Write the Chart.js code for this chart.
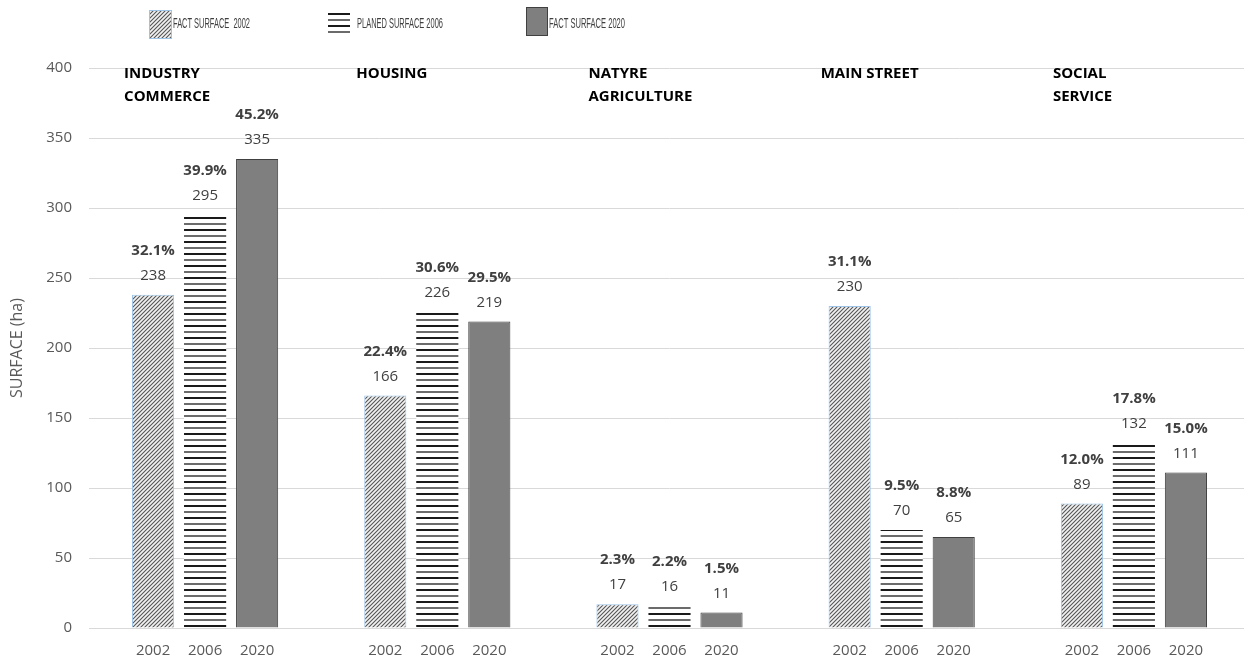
<!DOCTYPE html>
<html>
<head>
<meta charset="utf-8">
<script src="https://cdn.jsdelivr.net/npm/chart.js@4.4.0/dist/chart.umd.min.js"></script>
<style>
  html, body { margin: 0; padding: 0; background: #fff; overflow: hidden; }
  #wrap { width: 1252px; height: 661px; }
</style>
</head>
<body>
<div id="wrap"><canvas id="grafica"></canvas></div>
<script>
// datos
var grupos = ["INDUSTRY|COMMERCE", "HOUSING", "NATYRE|AGRICULTURE", "MAIN STREET", "SOCIAL|SERVICE"];
var anios = ["2002", "2006", "2020"];
var leyenda = ["FACT SURFACE  2002", "PLANED SURFACE 2006", "FACT SURFACE 2020"];
var valores2002 = [238, 166, 17, 230, 89];
var valores2006 = [295, 226, 16, 70, 132];
var valores2020 = [335, 219, 11, 65, 111];
var pct2002 = ["32.1%", "22.4%", "2.3%", "31.1%", "12.0%"];
var pct2006 = ["39.9%", "30.6%", "2.2%", "9.5%", "17.8%"];
var pct2020 = ["45.2%", "29.5%", "1.5%", "8.8%", "15.0%"];
var ticksY = [0, 50, 100, 150, 200, 250, 300, 350, 400];

// patrones de relleno
function rayado(){
    var c = document.createElement('canvas');
    c.width = 4; c.height = 4;
    var x = c.getContext('2d');
    x.fillStyle = '#f2f2f2';
    x.fillRect(0, 0, 4, 4);
    x.strokeStyle = '#555555';
    x.lineWidth = 1.1;
    x.beginPath();
    x.moveTo(-1, 5); x.lineTo(5, -1);
    x.moveTo(-3, 3); x.lineTo(3, -3);
    x.moveTo(1, 7); x.lineTo(7, 1);
    x.stroke();
    return x.createPattern(c, 'repeat');
}
function lineas(){
    var c = document.createElement('canvas');
    c.width = 4; c.height = 12;
    var x = c.getContext('2d');
    x.fillStyle = '#ffffff';
    x.fillRect(0, 0, 4, 12);
    x.fillStyle = '#1a1a1a';
    x.fillRect(0, 1, 4, 2);
    x.fillStyle = '#6b6b6b';
    x.fillRect(0, 7, 4, 2);
    return x.createPattern(c, 'repeat');
}
var pat2002 = rayado();
var pat2006 = lineas();

var etiquetas = {
    id: 'etiquetas',
    afterDatasetsDraw: function(chart){
        var ctx = chart.ctx;
        var pcts = [pct2002, pct2006, pct2020];
        ctx.save();
        ctx.textAlign = 'center';
        ctx.textBaseline = 'middle';
        chart.data.datasets.forEach(function(ds, i){
            var meta = chart.getDatasetMeta(i);
            meta.data.forEach(function(bar, j){
                ctx.fillStyle = '#404040';
                ctx.font = '15px "Open Sans"';
                ctx.fillText(String(ds.data[j]), bar.x, bar.y - 19);
                ctx.font = 'bold 15px "Open Sans"';
                ctx.fillText(pcts[i][j], bar.x, bar.y - 44);
                // años debajo de cada barra
                ctx.fillStyle = '#595959';
                ctx.font = '15px "Open Sans"';
                ctx.fillText(anios[i], bar.x, 651);
            });
        });
        // titulos de grupo
        var m0 = chart.getDatasetMeta(1);
        ctx.textAlign = 'left';
        ctx.fillStyle = '#000000';
        ctx.font = 'bold 15px "Open Sans"';
        grupos.forEach(function(g, j){
            var partes = g.split('|');
            var x0 = m0.data[j].x - 81;
            partes.forEach(function(p, k){
                ctx.fillText(p, x0, 74 + k * 23);
            });
        });
        // leyenda
        var cajas = [[149, 10, 23, 29], [328, 12, 22, 23], [526, 7, 22, 29]];
        var textosX = [173, 357, 549];
        var anchos = [77, 86, 76];
        chart.data.datasets.forEach(function(ds, i){
            var b = cajas[i];
            ctx.fillStyle = ds.backgroundColor;
            ctx.fillRect(b[0], b[1], b[2], b[3]);
            if(ds.borderWidth){
                ctx.strokeStyle = ds.borderColor;
                ctx.lineWidth = 1;
                ctx.strokeRect(b[0] + 0.5, b[1] + 0.5, b[2] - 1, b[3] - 1);
            }
            ctx.save();
            ctx.font = '15px "Liberation Sans Narrow", "Liberation Sans"';
            var w = ctx.measureText(leyenda[i]).width;
            ctx.translate(textosX[i], 24);
            ctx.scale(anchos[i] / w, 1);
            ctx.fillStyle = '#404040';
            ctx.textBaseline = 'middle';
            ctx.fillText(leyenda[i], 0, 0);
            ctx.restore();
        });
        ctx.restore();
    }
};

var grafica = document.getElementById('grafica').getContext('2d');
var chart = new Chart(grafica, {
    type: 'bar',
    data: {
        labels: grupos,
        datasets: [{
            label: leyenda[0],
            data: valores2002,
            backgroundColor: pat2002,
            borderColor: '#9dc3e6',
            borderWidth: 1
        }, {
            label: leyenda[1],
            data: valores2006,
            backgroundColor: pat2006,
            borderColor: '#ffffff',
            borderWidth: 0
        }, {
            label: leyenda[2],
            data: valores2020,
            backgroundColor: '#7f7f7f',
            borderColor: '#404040',
            borderWidth: 1
        }]
    },
    options: {
        responsive: true,
        maintainAspectRatio: false,
        animation: false,
        categoryPercentage: 0.672,
        barPercentage: 0.81,
        layout: { padding: { top: 68, bottom: 33, left: 0, right: 2 } },
        plugins: {
            legend: { display: false },
            tooltip: { enabled: false }
        },
        scales: {
            x: { display: false },
            y: {
                min: 0,
                max: 400,
                afterBuildTicks: function(s){ s.ticks = ticksY.map(function(v){ return { value: v }; }); },
                afterFit: function(s){ s.width = 89; },
                border: { display: false },
                grid: { color: '#d9d9d9', drawTicks: false },
                ticks: {
                    padding: 17,
                    color: '#595959',
                    font: { family: 'Open Sans', size: 15 }
                },
                title: {
                    display: true,
                    text: 'SURFACE (ha)',
                    color: '#595959',
                    font: { family: 'Open Sans', size: 16 },
                    padding: { top: 8, bottom: 0 }
                }
            }
        }
    },
    plugins: [etiquetas]
});
</script>
</body>
</html>
